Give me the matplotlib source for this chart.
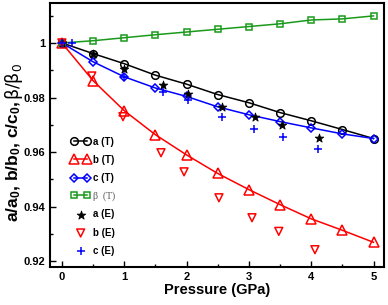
import matplotlib
matplotlib.use("Agg")
import matplotlib.pyplot as plt
from matplotlib.ticker import MultipleLocator

plt.rcParams['font.family'] = ['Liberation Sans', 'DejaVu Sans']
plt.rcParams['font.weight'] = 'bold'
plt.rcParams['mathtext.default'] = 'regular'

# Presiones teoricas (GPa)
p_t = [0, 0.5, 1.0, 1.5, 2.0, 2.5, 3.0, 3.5, 4.0, 4.5, 5.0]
a_t = [1.0, 0.9961, 0.9924, 0.9882, 0.9849, 0.9811, 0.9781, 0.9745, 0.9715, 0.9683, 0.9650]
b_t = [1.0, 0.9862, 0.9752, 0.9664, 0.9590, 0.9522, 0.9463, 0.9408, 0.9356, 0.9314, 0.9270]
c_t = [1.0, 0.9931, 0.9876, 0.9835, 0.9804, 0.9766, 0.9737, 0.9712, 0.9689, 0.9667, 0.9650]
beta_t = [1.0, 1.0008, 1.0019, 1.0030, 1.0040, 1.0050, 1.0060, 1.0070, 1.0084, 1.0088, 1.0099]

# Datos experimentales
p_ae = [0, 0.5, 1.0, 1.62, 2.03, 2.57, 3.10, 3.53, 4.12]
a_e = [1.0, 0.9958, 0.9905, 0.9846, 0.9813, 0.9766, 0.9729, 0.9700, 0.9653]
p_be = [0, 0.48, 0.98, 1.59, 1.96, 2.52, 3.05, 3.48, 4.06]
b_e = [1.0, 0.9879, 0.9730, 0.9598, 0.9528, 0.9433, 0.9360, 0.9310, 0.9243]
p_ce = [0, 0.16, 1.0, 1.62, 2.03, 2.57, 3.08, 3.55, 4.11]
c_e = [1.0, 1.0, 0.9876, 0.9820, 0.9790, 0.9730, 0.9685, 0.9657, 0.9612]

fig = plt.figure(figsize=(3.88, 3.05), dpi=100)
ax = fig.add_axes([0.129, 0.125, 0.861, 0.865])

ms = 5.5
ax.plot(p_t, a_t, '-o', color='black', mfc='none', ms=ms, mew=1.1, lw=1.1, label='a (T)')
ax.plot(p_t, b_t, '-^', color='red', mfc='none', ms=ms + 1, mew=1.1, lw=1.1, label='b (T)')
ax.plot(p_t, c_t, '-D', color='blue', mfc='none', ms=ms - 1, mew=1.1, lw=1.1, label='c (T)')
ax.plot(p_t, beta_t, '-s', color='#1a9a1a', mfc='none', ms=ms - 0.5, mew=1.1, lw=1.1, label='beta (T)')
ax.scatter(p_ae, a_e, marker='*', color='black', s=42, lw=0.6, label='a (E)', zorder=3)
ax.scatter(p_be, b_e, marker='v', facecolor='none', edgecolor='red', s=32, lw=1.1, label='b (E)', zorder=3)
ax.scatter(p_ce, c_e, marker='+', color='blue', s=38, lw=1.1, label='c (E)', zorder=3)

ax.set_xlim(-0.19, 5.17)
ax.set_ylim(0.918, 1.0146)
ax.xaxis.set_major_locator(MultipleLocator(1))
ax.xaxis.set_minor_locator(MultipleLocator(0.5))
ax.yaxis.set_major_locator(MultipleLocator(0.02))
ax.yaxis.set_minor_locator(MultipleLocator(0.01))
ax.yaxis.set_major_formatter(plt.FuncFormatter(lambda v, pos: '1' if abs(v - 1) < 1e-9 else f'{v:.2f}'))
ax.tick_params(which='both', direction='in', top=False, right=False, labelsize=8)
ax.tick_params(which='major', length=4, width=1)
ax.tick_params(which='minor', length=2.5, width=1)
for s in ax.spines.values():
    s.set_linewidth(1.5)

ax.set_xlabel('Pressure (GPa)', fontsize=10.5, fontweight='bold', labelpad=1)

# Etiqueta Y: parte en negrita + parte beta en fuente normal
fs_y = 12.5
yl = fig.text(0.035, 0.125 + 0.865 / 2 - 0.085, 'a/a$_0$, b/b$_0$, c/c$_0$, ', rotation=90,
              fontsize=fs_y, fontweight='bold', ha='center', va='center')
fig.canvas.draw()
bb = yl.get_window_extent().transformed(fig.transFigure.inverted())
fig.text(0.035, bb.y1, r'$\beta$/$\beta_0$', rotation=90, fontsize=fs_y, fontweight='normal',
         family='DejaVu Sans', ha='center', va='bottom')

leg = ax.legend(loc='lower left', bbox_to_anchor=(0.045, 0.02), frameon=False, fontsize=7,
                numpoints=2, scatterpoints=1, handlelength=2.0, handletextpad=0.3,
                labelspacing=0.85, borderaxespad=0.2)
for t in leg.get_texts():
    t.set_fontweight('bold')
bt = leg.get_texts()[3]
bt.set_family('Liberation Serif')
bt.set_fontweight('normal')
bt.set_color('#555555')
bt.set_text(u'\u03b2  (T)')

fig.savefig('out.png', dpi=100)
